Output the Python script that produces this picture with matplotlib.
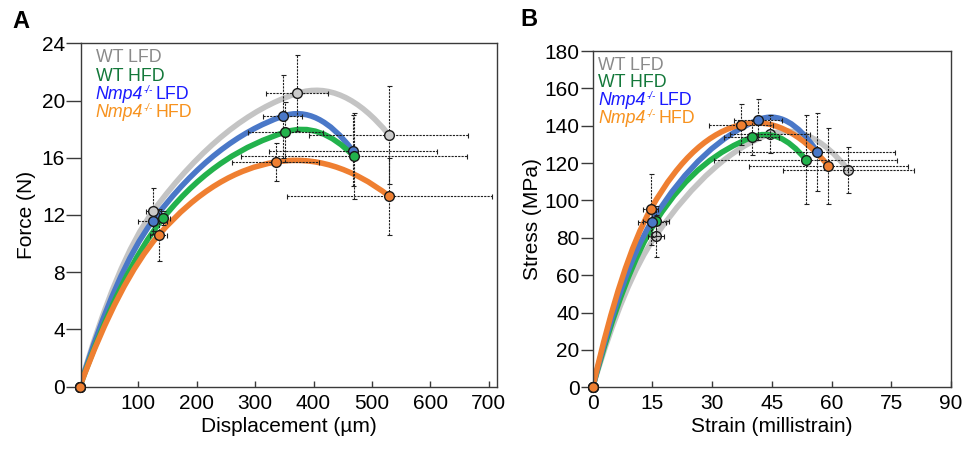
import numpy as np
import matplotlib
matplotlib.use("Agg")
import matplotlib.pyplot as plt
import matplotlib.transforms as mtransforms
from matplotlib.path import Path
from matplotlib.patches import PathPatch

plt.rcParams['font.family'] = ['Liberation Sans', 'DejaVu Sans']

# ---------------- data ----------------
groups = ["WT LFD", "WT HFD", "Nmp4 LFD", "Nmp4 HFD"]
# legend pieces: (italic gene name, superscript, plain part)
legend_parts = [("", "", "WT LFD"), ("", "", "WT HFD"),
                ("Nmp4", "-/-", "LFD"), ("Nmp4", "-/-", "HFD")]

# Panel A: displacement (um) vs force (N)
disp_wt_lfd = [0, 126, 372, 529]
force_wt_lfd = [0, 12.3, 20.5, 17.6]
disp_err_wt_lfd = [0, 13, 53, 136]
force_err_wt_lfd = [0, 1.6, 2.65, 3.45]

disp_wt_hfd = [0, 143, 352, 469]
force_wt_hfd = [0, 11.8, 17.8, 16.1]
disp_err_wt_hfd = [0, 12, 64, 193]
force_err_wt_hfd = [0, 0.5, 2.1, 3.0]

disp_ko_lfd = [0, 125, 347, 467]
force_ko_lfd = [0, 11.6, 18.9, 16.5]
disp_err_ko_lfd = [0, 25, 33, 144]
force_err_ko_lfd = [0, 0.7, 2.9, 2.5]

disp_ko_hfd = [0, 135, 335, 530]
force_ko_hfd = [0, 10.6, 15.7, 13.3]
disp_err_ko_hfd = [0, 15, 74, 176]
force_err_ko_hfd = [0, 1.8, 1.35, 2.7]

# Panel B: strain (millistrain) vs stress (MPa)
strain_wt_lfd = [0, 15.8, 44.5, 64.2]
stress_wt_lfd = [0, 81, 135.5, 116.3]
strain_err_wt_lfd = [0, 2.0, 10.0, 16.5]
stress_err_wt_lfd = [0, 11, 10, 12.5]

strain_wt_hfd = [0, 15.9, 39.9, 53.5]
stress_wt_hfd = [0, 89, 133.8, 121.9]
strain_err_wt_hfd = [0, 3.3, 7.0, 23.0]
stress_err_wt_hfd = [0, 8, 9.5, 24]

strain_ko_lfd = [0, 14.8, 41.5, 56.4]
stress_ko_lfd = [0, 88.6, 143.1, 126.0]
strain_err_ko_lfd = [0, 3.5, 6.0, 19.6]
stress_err_ko_lfd = [0, 8, 11, 21]

strain_ko_hfd = [0, 14.6, 37.3, 59.2]
stress_ko_hfd = [0, 95.4, 140.6, 118.5]
strain_err_ko_hfd = [0, 1.9, 8.0, 20.0]
stress_err_ko_hfd = [0, 19, 11, 20.5]

line_colors = ["#c4c4c4", "#22b24c", "#4a78c8", "#ef7f31"]
face_colors = ["#cacaca", "#22b24c", "#4a78c8", "#ef7f31"]
text_colors = ["#8a8a8a", "#13783a", "#1a1aff", "#f7921e"]

A_series = [
    (disp_wt_lfd, force_wt_lfd, disp_err_wt_lfd, force_err_wt_lfd),
    (disp_wt_hfd, force_wt_hfd, disp_err_wt_hfd, force_err_wt_hfd),
    (disp_ko_lfd, force_ko_lfd, disp_err_ko_lfd, force_err_ko_lfd),
    (disp_ko_hfd, force_ko_hfd, disp_err_ko_hfd, force_err_ko_hfd),
]
B_series = [
    (strain_wt_lfd, stress_wt_lfd, strain_err_wt_lfd, stress_err_wt_lfd),
    (strain_wt_hfd, stress_wt_hfd, strain_err_wt_hfd, stress_err_wt_hfd),
    (strain_ko_lfd, stress_ko_lfd, strain_err_ko_lfd, stress_err_ko_lfd),
    (strain_ko_hfd, stress_ko_hfd, strain_err_ko_hfd, stress_err_ko_hfd),
]
A_order = [0, 2, 1, 3]
B_order = [0, 1, 2, 3]


def smooth_path(x, y):
    """Smooth curve through the points as a Bezier path (Catmull-Rom style tangents)."""
    x = np.asarray(x, float)
    y = np.asarray(y, float)
    n = len(x)
    h = np.diff(x)
    s = np.diff(y) / h
    d = np.zeros(n)
    for i in range(1, n - 1):
        d[i] = (y[i + 1] - y[i - 1]) / (x[i + 1] - x[i - 1])
    d[0] = 2 * s[0] - d[1]
    d[-1] = 2 * s[-1] - d[-2]
    verts = [(x[0], y[0])]
    codes = [Path.MOVETO]
    for i in range(n - 1):
        verts += [(x[i] + h[i] / 3, y[i] + d[i] * h[i] / 3),
                  (x[i + 1] - h[i] / 3, y[i + 1] - d[i + 1] * h[i] / 3),
                  (x[i + 1], y[i + 1])]
        codes += [Path.CURVE4] * 3
    return Path(verts, codes)


def draw_panel(ax, series, order, lw, hidden=()):
    for rank, i in enumerate(order):
        xs, ys, xe, ye = series[i]
        ax.add_patch(PathPatch(smooth_path(xs, ys), fill=False, lw=lw,
                               edgecolor=line_colors[i], capstyle='round',
                               joinstyle='round', zorder=2 + rank * 0.1))
    for i in order:
        xs, ys, xe, ye = series[i]
        eb = ax.errorbar(xs[1:], ys[1:], xerr=xe[1:], yerr=ye[1:], fmt='none',
                         ecolor='#202020', elinewidth=0.8, capsize=1.8,
                         capthick=0.8, zorder=3)
        for c in eb[2]:
            c.set_linestyle((0, (2.0, 1.0)))
    for rank, i in enumerate(order):
        xs, ys, xe, ye = series[i]
        z = 2.05 + rank * 0.1 if i in hidden else 4
        ax.plot(xs, ys, 'o', ms=7, mfc=face_colors[i], mec='#1a1a1a', mew=1.0,
                zorder=z, clip_on=False)


def style_axes(ax, ylen):
    for sp in ax.spines.values():
        sp.set_color('#3a3a3a')
        sp.set_linewidth(1.0)
    ax.tick_params(axis='y', direction='out', length=ylen, width=1.0,
                   color='#3a3a3a', labelsize=15, pad=1)
    ax.tick_params(axis='x', direction='in', length=4, width=1.0,
                   color='#3a3a3a', labelsize=15, pad=5)


def add_legend(fig, ax, x0, y0, dy, fs=12.8):
    renderer = fig.canvas.get_renderer()
    for k in range(4):
        gene, sup, rest = legend_parts[k]
        y = y0 - k * dy
        col = text_colors[k]
        if gene:
            t1 = ax.text(x0, y, gene, transform=ax.transAxes, color=col,
                         fontsize=fs, style='italic', va='center', ha='left', zorder=6)
            w1 = t1.get_window_extent(renderer).width
            tr2 = mtransforms.offset_copy(ax.transAxes, fig=fig, x=w1 + 0.5, y=4.5,
                                          units='dots')
            t2 = ax.text(x0, y, sup, transform=tr2, color=col, fontsize=fs * 0.55,
                         style='italic', va='center', ha='left', zorder=6)
            w2 = t2.get_window_extent(renderer).width
            tr3 = mtransforms.offset_copy(ax.transAxes, fig=fig, x=w1 + w2 + 3.5, y=0,
                                          units='dots')
            ax.text(x0, y, rest, transform=tr3, color=col, fontsize=fs,
                    va='center', ha='left', zorder=6)
        else:
            ax.text(x0, y, rest, transform=ax.transAxes, color=col,
                    fontsize=fs, va='center', ha='left', zorder=6)


fig = plt.figure(figsize=(9.71, 4.49), dpi=100)

# Panel A
axA = fig.add_axes([81 / 971, 1 - 386.7 / 449, (497 - 81) / 971, (386.7 - 43.3) / 449])
draw_panel(axA, A_series, A_order, lw=4.0)
axA.set_xlim(2, 714)
axA.set_ylim(0, 24)
axA.set_xticks([100, 200, 300, 400, 500, 600, 700])
axA.set_yticks([0, 4, 8, 12, 16, 20, 24])
style_axes(axA, 10.5)
axA.set_xlabel("Displacement (µm)", fontsize=15, labelpad=3)
axA.set_ylabel("Force (N)", fontsize=15, labelpad=4)
fig.text(12 / 971, 1 - 21 / 449, "A", fontsize=17, fontweight='bold', va='center')

# Panel B
axB = fig.add_axes([592.7 / 971, 1 - 387.3 / 449, 358.3 / 971, 336.3 / 449])
draw_panel(axB, B_series, B_order, lw=4.0, hidden=(0,))
axB.set_xlim(0, 90)
axB.set_ylim(0, 180)
axB.set_xticks([0, 15, 30, 45, 60, 75, 90])
axB.set_yticks(np.arange(0, 181, 20))
style_axes(axB, 8.5)
axB.set_xlabel("Strain (millistrain)", fontsize=15, labelpad=3)
axB.set_ylabel("Stress (MPa)", fontsize=15, labelpad=2)
fig.text(520 / 971, 1 - 19 / 449, "B", fontsize=17, fontweight='bold', va='center')

add_legend(fig, axA, 0.035, 0.958, 0.0535)
add_legend(fig, axB, 0.016, 0.958, 0.0525)

fig.savefig("out.png", dpi=100)
